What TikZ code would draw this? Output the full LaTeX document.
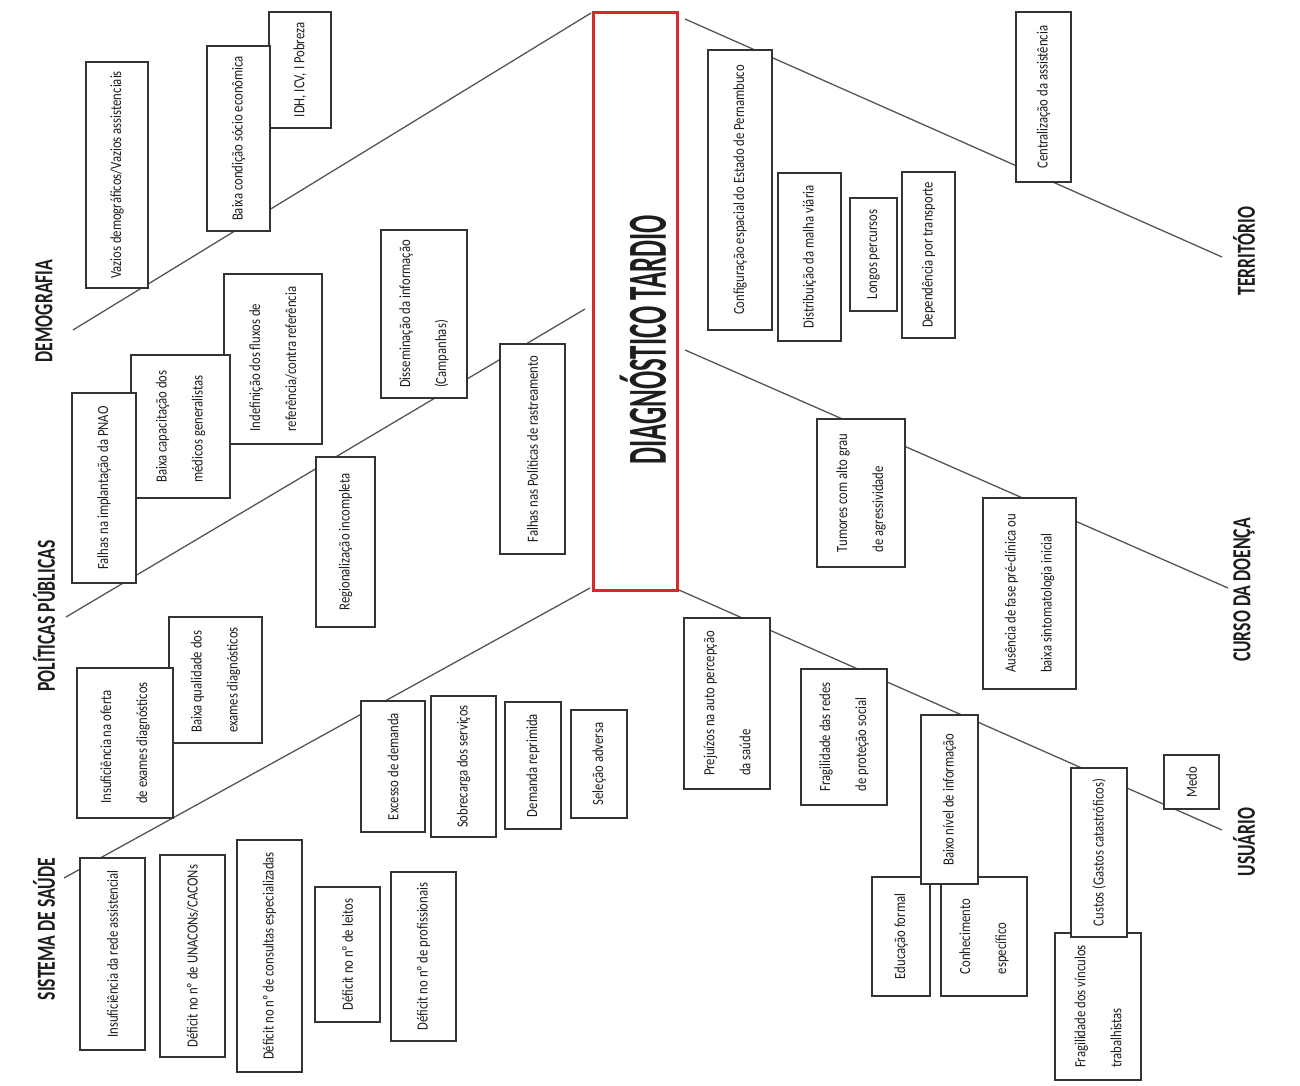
\documentclass[tikz,border=0pt]{standalone}
\usepackage{fontspec}
\setmainfont{Carlito}
\newfontfamily\boxfnt[FakeStretch=0.82]{Carlito}
\newfontfamily\headfnt[FakeStretch=0.68]{Carlito}
\newfontfamily\titlefnt[FakeStretch=0.49]{Carlito}
\definecolor{ink}{HTML}{1E1E1E}
\definecolor{edge}{HTML}{333333}
\definecolor{spinec}{HTML}{555555}
\definecolor{redb}{HTML}{D62A2A}
\tikzset{
  cbox/.style={draw=edge, line width=1.4pt, fill=white, rotate=90, inner sep=0pt, outer sep=0pt,
    align=left, text=ink, font=\boxfnt\fontsize{15.5}{36}\selectfont},
  headtxt/.style={rotate=90, inner sep=0pt, text=ink, font=\headfnt\bfseries\fontsize{26}{30}\selectfont},
  spine/.style={draw=spinec, line width=1.3pt},
  mainbox/.style={draw=redb, line width=3pt, rotate=90, inner sep=0pt, outer sep=0pt}
}
\newcommand\bx[6]{\node[cbox, minimum width={(#5-#3)*1pt}, minimum height={(#4-#2)*1pt}] (#1) at ({(#2+#4)/2},{(#3+#5)/2}) {#6};}
\begin{document}
\begin{tikzpicture}[x=1pt,y=-1pt]
\useasboundingbox (0,0) rectangle (1300,1086);
\fill[white] (0,0) rectangle (1300,1086);

% effect box
\node[mainbox, minimum width=577pt, minimum height=84pt] (main) at (635,301.5) {};
\node[rotate=90, inner sep=0pt, text=ink, font=\titlefnt\bfseries\fontsize{55}{60}\selectfont] (title) at (643,340) {DIAGNÓSTICO TARDIO};

% headings
\node[headtxt] (hdem) at (44,311) {DEMOGRAFIA};
\node[headtxt] (hpol) at (44,616) {POLÍTICAS PÚBLICAS};
\node[headtxt] (hsis) at (44,929) {SISTEMA DE SAÚDE};
\node[headtxt] (hter) at (1244,251) {TERRITÓRIO};
\node[headtxt] (hcur) at (1244,590) {CURSO DA DOENÇA};
\node[headtxt] (husu) at (1244,842) {USUÁRIO};

% spine end points
\coordinate (d0) at (73,330);   \coordinate (d1) at (591,13);
\coordinate (p0) at (66,617);   \coordinate (p1) at (585,309);
\coordinate (s0) at (64,878);   \coordinate (s1) at (590,588);
\coordinate (t0) at (685,19);   \coordinate (t1) at (1222,257);
\coordinate (c0) at (685,350);  \coordinate (c1) at (1228,588);
\coordinate (u0) at (679,590);  \coordinate (u1) at (1222,830);

\draw[spine] (d0) -- (d1);
\draw[spine] (p0) -- (p1);
\draw[spine] (s0) -- (s1);
\draw[spine] (t0) -- (t1);
\draw[spine] (c0) -- (c1);
\draw[spine] (u0) -- (u1);

% Demografia
\bx{vaz}{86}{62}{148}{288}{Vazios demográficos/Vazios assistenciais}
\bx{idh}{269}{12}{331}{128}{IDH, ICV, I Pobreza}
\bx{bcs}{207}{46}{270}{231}{Baixa condição sócio econômica}

% Politicas publicas
\bx{ind}{224}{274}{322}{444}{Indefinição dos fluxos de\\referência/contra referência}
\bx{bcap}{131}{355}{230}{498}{Baixa capacitação dos\\médicos generalistas}
\bx{pnao}{72}{393}{136}{583}{Falhas na implantação da PNAO}
\bx{dis}{381}{230}{467}{398}{Disseminação da informação\\(Campanhas)}
\bx{reg}{316}{457}{375}{627}{Regionalização incompleta}
\bx{ras}{500}{344}{565}{554}{Falhas nas Políticas de rastreamento}

% Sistema de saude
\bx{bqe}{169}{617}{262}{743}{Baixa qualidade dos\\exames diagnósticos}
\bx{ioe}{77}{668}{173}{818}{Insuficiência na oferta\\de exames diagnósticos}
\bx{exc}{361}{701}{425}{832}{Excesso de demanda}
\bx{sob}{431}{696}{496}{837}{Sobrecarga dos serviços}
\bx{dem}{505}{702}{561}{829}{Demanda reprimida}
\bx{sel}{571}{710}{627}{818}{Seleção adversa}
\bx{ira}{80}{858}{145}{1050}{Insuficiência da rede assistencial}
\bx{dun}{160}{855}{225}{1057}{Déficit no nº de UNACONs/CACONs}
\bx{dce}{237}{840}{302}{1072}{Déficit no nº de consultas especializadas}
\bx{dle}{315}{887}{380}{1022}{Déficit no nº de leitos}
\bx{dpr}{391}{872}{456}{1041}{Déficit no nº de profissionais}

% Territorio
\bx{cfg}{708}{50}{772}{330}{Configuração espacial do Estado de Pernambuco}
\bx{dmv}{778}{173}{841}{341}{Distribuição da malha viária}
\bx{lon}{850}{198}{897}{311}{Longos percursos}
\bx{dep}{902}{172}{955}{338}{Dependência por transporte}
\bx{cen}{1016}{12}{1071}{182}{Centralização da assistência}

% Curso da doenca
\bx{tum}{817}{419}{905}{567}{Tumores com alto grau\\de agressividade}
\bx{aus}{983}{498}{1076}{689}{Ausência de fase pré-clínica ou\\baixa sintomatologia inicial}

% Usuario
\bx{pre}{684}{618}{770}{789}{Prejuízos na auto percepção\\da saúde}
\bx{frs}{801}{669}{887}{805}{Fragilidade das redes\\de proteção social}
\bx{edu}{872}{877}{930}{996}{Educação formal}
\bx{con}{941}{877}{1027}{996}{Conhecimento\\específico}
\bx{bni}{921}{715}{978}{884}{Baixo nível de informação}
\bx{frv}{1055}{933}{1141}{1080}{Fragilidade dos vínculos\\trabalhistas}
\bx{cus}{1071}{768}{1127}{937}{Custos (Gastos catastróficos)}
\bx{med}{1164}{755}{1219}{809}{Medo}
\end{tikzpicture}
\end{document}
